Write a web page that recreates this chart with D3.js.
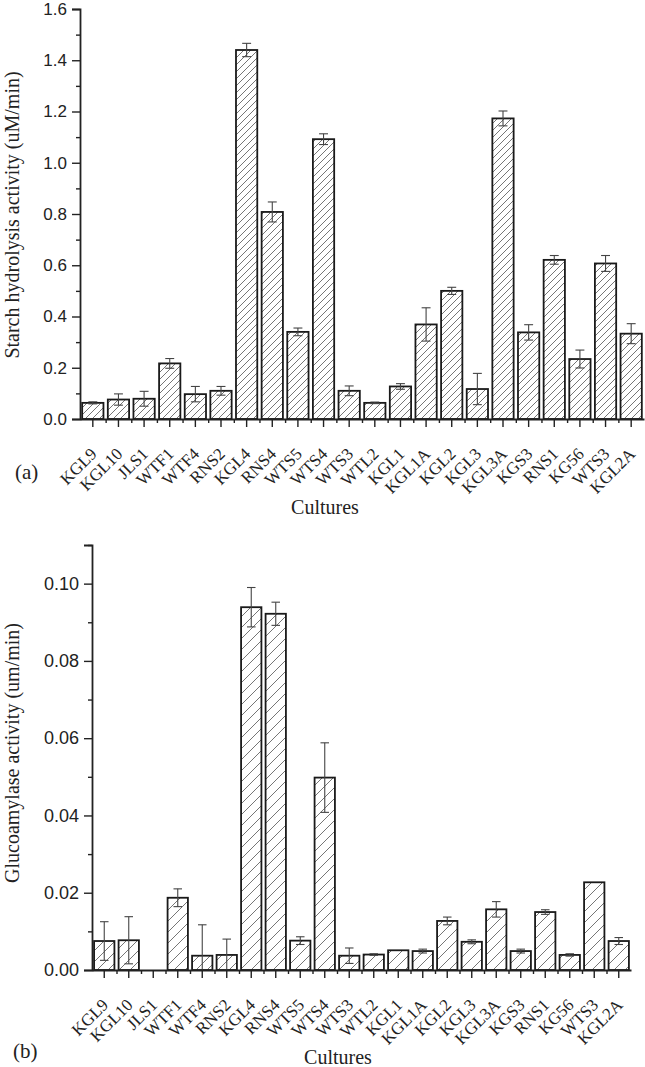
<!DOCTYPE html>
<html>
<head>
<meta charset="utf-8">
<script src="https://cdn.jsdelivr.net/npm/d3@7.9.0/dist/d3.min.js"></script>
<style>
  body { margin: 0; background: #fff; }
  svg { display: block; }
  .tick-label { font-family: "Liberation Sans", Arial, sans-serif; }
  .serif { font-family: "Liberation Serif", "Times New Roman", serif; fill: #222; }
</style>
</head>
<body>
<svg id="chart" width="645" height="1067"></svg>
<script>
// cultures, same order in both panels (WTS3 appears twice)
const categories = ["KGL9", "KGL10", "JLS1", "WTF1", "WTF4", "RNS2", "KGL4", "RNS4", "WTS5", "WTS4", "WTS3",
  "WTL2", "KGL1", "KGL1A", "KGL2", "KGL3", "KGL3A", "KGS3", "RNS1", "KG56", "WTS3", "KGL2A"];

// (a) starch hydrolysis activity (uM/min)
const starchValues = [0.063, 0.076, 0.079, 0.217, 0.097, 0.110, 1.440, 0.808, 0.340, 1.092, 0.110,
  0.063, 0.127, 0.369, 0.500, 0.117, 1.173, 0.338, 0.621, 0.234, 0.607, 0.333];
const starchErrors = [0.004, 0.022, 0.029, 0.019, 0.030, 0.017, 0.026, 0.039, 0.015, 0.021, 0.019,
  0.003, 0.011, 0.065, 0.014, 0.061, 0.029, 0.030, 0.017, 0.035, 0.031, 0.039];
const starchTicks = [0, 0.2, 0.4, 0.6, 0.8, 1.0, 1.2, 1.4, 1.6];
const starchMinorTicks = [0.1, 0.3, 0.5, 0.7, 0.9, 1.1, 1.3, 1.5];

// (b) glucoamylase activity (um/min)
const glucoValues = [0.0075, 0.0077, 0, 0.0187, 0.0037, 0.0039, 0.0939, 0.0922, 0.0076, 0.0498, 0.0037,
  0.0040, 0.0051, 0.0049, 0.0127, 0.0073, 0.0157, 0.0049, 0.0150, 0.0039, 0.0227, 0.0075];
const glucoErrors = [0.0050, 0.0061, 0, 0.0023, 0.0080, 0.0041, 0.0051, 0.0030, 0.0010, 0.0090, 0.0020,
  0.0002, 0, 0.0005, 0.0010, 0.0005, 0.0020, 0.0005, 0.0006, 0.0003, 0, 0.0009];
const glucoTicks = [0, 0.02, 0.04, 0.06, 0.08, 0.10];
const glucoMinorTicks = [0.01, 0.03, 0.05, 0.07, 0.09, 0.11];

const svg = d3.select('#chart');

// hatch patterns, the lower panel has a wider spacing
function addHatch(id, size) {
  svg.append('defs').append('pattern')
    .attr('id', id)
    .attr('patternUnits', 'userSpaceOnUse')
    .attr('width', size).attr('height', size)
    .append('path')
    .attr('d', `M-1,1 l2,-2 M0,${size} l${size},${-size} M${size - 1},${size + 1} l2,-2`)
    .attr('stroke', '#666')
    .attr('stroke-width', 0.9);
}
addHatch('hatchA', 7);
addHatch('hatchB', 11);

function drawPanel(opts) {
  const { values, errors, yDomain, yTicks, yMinor, fmt, left, right, top, bottom,
          hatch, tickFont, yTitle, titleY, panelTag, tagPos, xTitlePos } = opts;

  const g = svg.append('g');

  const x = d3.scaleBand()
    .domain(d3.range(categories.length))
    .range([left, right])
    .paddingInner(0.17)
    .paddingOuter(0.085);

  const y = d3.scaleLinear().domain(yDomain).range([bottom, top]);

  // boundaries between categories, for the small x ticks
  const xEdge = d3.scaleLinear().domain([0, categories.length]).range([left, right]);

  // bars (JLS1 in panel b has no bar)
  g.append('g')
    .selectAll('rect')
    .data(values.map((v, i) => ({ v, i })).filter((d) => d.v > 0))
    .join('rect')
    .attr('x', (d) => x(d.i))
    .attr('y', (d) => y(d.v))
    .attr('width', x.bandwidth())
    .attr('height', (d) => bottom - y(d.v))
    .attr('fill', `url(#${hatch})`)
    .attr('stroke', '#1a1a1a')
    .attr('stroke-width', 1.8);

  // error bars
  const capW = x.bandwidth() * 0.42;
  const errs = g.append('g')
    .attr('stroke', '#444')
    .attr('stroke-width', 1.1)
    .selectAll('g')
    .data(values.map((v, i) => ({ v, e: errors[i], i })).filter((d) => d.e > 0))
    .join('g');

  const cx = (d) => x(d.i) + x.bandwidth() / 2;
  const lo = (d) => y(Math.max(0, d.v - d.e));
  const hi = (d) => y(d.v + d.e);
  errs.append('line')
    .attr('x1', cx).attr('x2', cx)
    .attr('y1', lo).attr('y2', hi);
  errs.append('line')
    .attr('x1', (d) => cx(d) - capW / 2).attr('x2', (d) => cx(d) + capW / 2)
    .attr('y1', hi).attr('y2', hi);
  errs.filter((d) => d.v - d.e > 0).append('line')
    .attr('x1', (d) => cx(d) - capW / 2).attr('x2', (d) => cx(d) + capW / 2)
    .attr('y1', lo).attr('y2', lo);

  // y axis, major + minor ticks
  const yAxis = g.append('g')
    .attr('transform', `translate(${left},0)`)
    .call(d3.axisLeft(y).tickValues(yTicks).tickFormat(d3.format(fmt)).tickSize(8).tickPadding(5));
  yAxis.select('.domain').attr('stroke-width', 1.8).attr('stroke', '#222');
  yAxis.selectAll('.tick line').attr('stroke-width', 1.4).attr('stroke', '#222');
  yAxis.selectAll('text')
    .attr('class', 'tick-label')
    .attr('font-size', tickFont)
    .attr('fill', '#222');

  g.append('g')
    .attr('transform', `translate(${left},0)`)
    .call(d3.axisLeft(y).tickValues(yMinor).tickFormat('').tickSize(4))
    .call((s) => s.select('.domain').remove())
    .selectAll('.tick line').attr('stroke-width', 1.4).attr('stroke', '#222');

  // x axis, major ticks at categories, minor at boundaries
  const xAxis = g.append('g')
    .attr('transform', `translate(0,${bottom})`)
    .call(d3.axisBottom(x).tickFormat((i) => categories[i]).tickSize(8).tickSizeOuter(0));
  xAxis.select('.domain').attr('stroke-width', 1.8).attr('stroke', '#222');
  xAxis.selectAll('.tick line').attr('stroke-width', 1.4).attr('stroke', '#222');
  xAxis.selectAll('text')
    .attr('class', 'serif')
    .attr('font-size', 17)
    .attr('text-anchor', 'end')
    .attr('y', 0)
    .attr('dy', 0)
    .attr('transform', 'translate(5,36) rotate(-45)');

  g.append('g')
    .attr('transform', `translate(0,${bottom})`)
    .call(d3.axisBottom(xEdge).tickValues(d3.range(1, categories.length)).tickFormat('').tickSize(4))
    .call((s) => s.select('.domain').remove())
    .selectAll('.tick line').attr('stroke-width', 1.4).attr('stroke', '#222');

  // titles
  g.append('text')
    .attr('class', 'serif')
    .attr('font-size', 20)
    .attr('text-anchor', 'middle')
    .attr('transform', `translate(19,${titleY}) rotate(-90)`)
    .text(yTitle);

  g.append('text')
    .attr('class', 'serif')
    .attr('font-size', 20)
    .attr('text-anchor', 'middle')
    .attr('x', xTitlePos[0])
    .attr('y', xTitlePos[1])
    .text('Cultures');

  g.append('text')
    .attr('class', 'serif')
    .attr('font-size', 21)
    .attr('x', tagPos[0])
    .attr('y', tagPos[1])
    .text(panelTag);
}

drawPanel({
  values: starchValues, errors: starchErrors,
  yDomain: [0, 1.6], yTicks: starchTicks, yMinor: starchMinorTicks, fmt: '.1f',
  left: 80, right: 644, top: 9, bottom: 419,
  hatch: 'hatchA', tickFont: 17,
  yTitle: 'Starch hydrolysis activity (uM/min)', titleY: 215,
  panelTag: '(a)', tagPos: [15, 479], xTitlePos: [325, 514]
});

drawPanel({
  values: glucoValues, errors: glucoErrors,
  yDomain: [0, 0.11], yTicks: glucoTicks, yMinor: glucoMinorTicks, fmt: '.2f',
  left: 92, right: 631, top: 545, bottom: 970,
  hatch: 'hatchB', tickFont: 18,
  yTitle: 'Glucoamylase activity (um/min)', titleY: 753,
  panelTag: '(b)', tagPos: [13, 1058], xTitlePos: [338, 1064]
});
</script>
</body>
</html>
